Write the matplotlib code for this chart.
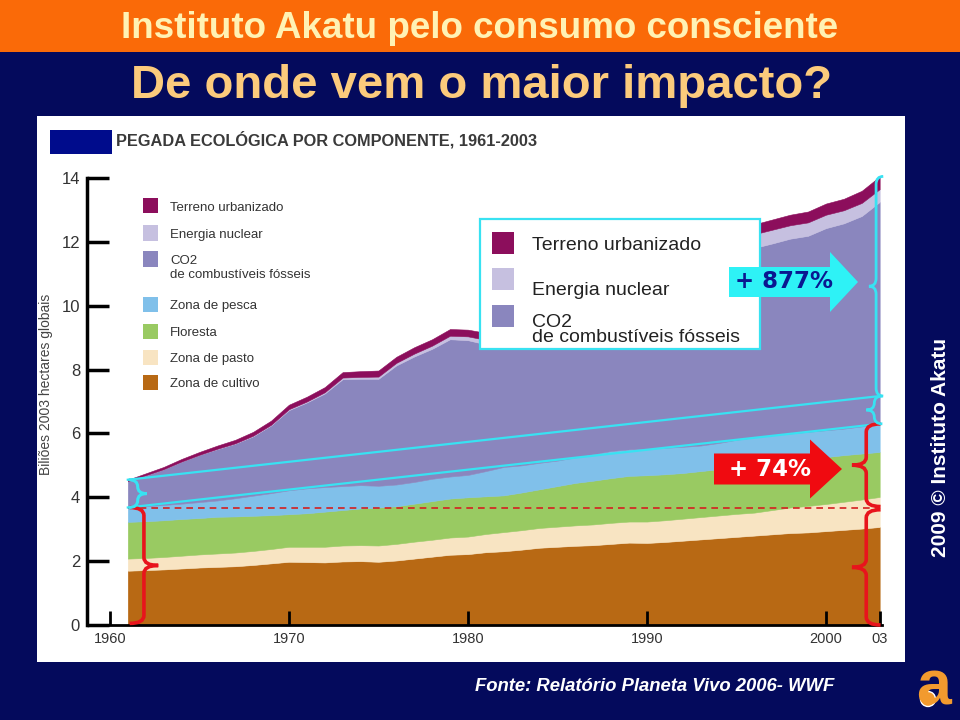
import matplotlib
matplotlib.use("Agg")
import matplotlib.pyplot as plt
from matplotlib.patches import Rectangle, Polygon, PathPatch, Ellipse
from matplotlib.path import Path

# ---------------- data (billions of 2003 global hectares) ----------------
years = list(range(1961, 2004))

cultivo = [1.70, 1.72, 1.74, 1.77, 1.80, 1.82, 1.84, 1.88, 1.93, 1.98,
           1.97, 1.96, 1.99, 2.00, 1.98, 2.02, 2.08, 2.14, 2.20, 2.22,
           2.28, 2.31, 2.36, 2.42, 2.45, 2.48, 2.50, 2.54, 2.58, 2.57,
           2.60, 2.64, 2.68, 2.72, 2.76, 2.80, 2.84, 2.88, 2.90, 2.94,
           2.98, 3.02, 3.07]
pasto = [0.38, 0.38, 0.39, 0.40, 0.41, 0.42, 0.43, 0.44, 0.45, 0.47,
         0.48, 0.49, 0.50, 0.50, 0.51, 0.52, 0.53, 0.53, 0.54, 0.55,
         0.57, 0.60, 0.61, 0.62, 0.63, 0.64, 0.65, 0.66, 0.66, 0.67,
         0.68, 0.69, 0.70, 0.71, 0.72, 0.72, 0.76, 0.80, 0.83, 0.85,
         0.88, 0.91, 0.94]
floresta = [1.15, 1.15, 1.15, 1.15, 1.14, 1.15, 1.13, 1.10, 1.06, 1.02,
            1.05, 1.10, 1.11, 1.15, 1.19, 1.18, 1.19, 1.21, 1.22, 1.23,
            1.18, 1.15, 1.18, 1.21, 1.27, 1.33, 1.37, 1.40, 1.43, 1.45,
            1.44, 1.43, 1.44, 1.45, 1.46, 1.48, 1.48, 1.46, 1.47, 1.47,
            1.46, 1.44, 1.41]
pesca = [0.45, 0.47, 0.48, 0.48, 0.50, 0.51, 0.57, 0.63, 0.69, 0.75,
         0.78, 0.77, 0.75, 0.73, 0.68, 0.68, 0.68, 0.70, 0.69, 0.70,
         0.79, 0.89, 0.85, 0.83, 0.80, 0.80, 0.83, 0.85, 0.83, 0.83,
         0.83, 0.82, 0.80, 0.82, 0.86, 0.88, 0.87, 0.86, 0.85, 0.84,
         0.83, 0.85, 0.88]
co2 = [0.82, 0.97, 1.12, 1.32, 1.48, 1.61, 1.71, 1.86, 2.12, 2.51,
       2.69, 2.93, 3.35, 3.33, 3.35, 3.73, 3.93, 4.07, 4.30, 4.22,
       3.97, 3.77, 3.73, 3.87, 4.06, 4.23, 4.50, 4.78, 5.00, 5.16,
       5.25, 5.31, 5.40, 5.50, 5.68, 5.93, 6.00, 6.10, 6.14, 6.33,
       6.43, 6.59, 6.95]
nuclear = [0.00, 0.00, 0.00, 0.00, 0.00, 0.01, 0.01, 0.02, 0.02, 0.03,
           0.03, 0.04, 0.05, 0.06, 0.07, 0.08, 0.09, 0.10, 0.11, 0.12,
           0.14, 0.16, 0.19, 0.22, 0.25, 0.28, 0.30, 0.32, 0.34, 0.36,
           0.38, 0.39, 0.40, 0.41, 0.42, 0.43, 0.43, 0.42, 0.42, 0.42,
           0.41, 0.41, 0.40]
urbano = [0.05, 0.06, 0.07, 0.08, 0.09, 0.10, 0.11, 0.12, 0.13, 0.14,
          0.15, 0.16, 0.17, 0.18, 0.19, 0.19, 0.20, 0.20, 0.21, 0.21,
          0.22, 0.22, 0.23, 0.23, 0.24, 0.24, 0.25, 0.25, 0.26, 0.26,
          0.27, 0.27, 0.28, 0.29, 0.30, 0.31, 0.32, 0.33, 0.34, 0.35,
          0.36, 0.38, 0.40]

series = [cultivo, pasto, floresta, pesca, co2, nuclear, urbano]
labels = ["Zona de cultivo", "Zona de pasto", "Floresta", "Zona de pesca",
          "CO2\nde combustíveis fósseis", "Energia nuclear", "Terreno urbanizado"]
colors = ["#B86914", "#F8E4C2", "#99CA62", "#80C0EA", "#8A86BE", "#C6C0E0", "#8C0E5C"]

x_ticks = [1960, 1970, 1980, 1990, 2000, 2003]
x_ticklabels = ["1960", "1970", "1980", "1990", "2000", "03"]
y_ticks = [0, 2, 4, 6, 8, 10, 12, 14]

NAVY = "#040A5C"
ORANGE = "#FA6A08"
CYAN = "#38E2F2"
RED = "#E8141C"
SANS = ["Liberation Sans", "DejaVu Sans"]

W, H = 960, 720
fig = plt.figure(figsize=(9.6, 7.2), dpi=100)
fig.patch.set_facecolor(NAVY)


def fx(px):
    return px / W


def fy(py):
    return 1 - py / H


# ------------------ slide frame ------------------ #
fig.add_artist(Rectangle((0, fy(52)), 1, 52 / H, transform=fig.transFigure,
                         facecolor=ORANGE, edgecolor="none", zorder=-10))
fig.text(fx(480), fy(38), "Instituto Akatu pelo consumo consciente", family=SANS,
         fontsize=26.5, fontweight="bold", color="#FFF2B4", ha="center", va="baseline")
fig.text(fx(482), fy(98), "De onde vem o maior impacto?", family=SANS,
         fontsize=34, fontweight="bold", color="#FCCB7C", ha="center", va="baseline")

# white panel behind the chart
fig.add_artist(Rectangle((fx(37), fy(662)), fx(905) - fx(37), fy(116) - fy(662),
                         transform=fig.transFigure, facecolor="white",
                         edgecolor="none", zorder=-5))
fig.add_artist(Rectangle((fx(50), fy(154)), fx(112) - fx(50), fy(130) - fy(154),
                         transform=fig.transFigure, facecolor="#000C8C",
                         edgecolor="none", zorder=-4))
fig.text(fx(116), fy(145), "PEGADA ECOLÓGICA POR COMPONENTE, 1961-2003", family=SANS,
         fontsize=11.8, fontweight="bold", color="#3A3A3A", ha="left", va="baseline")

fig.text(fx(46), fy(384), "Biliões 2003 hectares globais", family=SANS, fontsize=10,
         color="#444444", rotation=90, ha="center", va="center")

fig.text(fx(940), fy(447), "2009 © Instituto Akatu", family=SANS, fontsize=15,
         fontweight="bold", color="white", rotation=90, ha="center", va="center")
fig.text(fx(655), fy(691), "Fonte: Relatório Planeta Vivo 2006- WWF", family=SANS,
         fontsize=13.3, fontweight="bold", style="italic", color="white",
         ha="center", va="baseline")

# logo
fig.text(fx(933), fy(688), "a", family=SANS, fontsize=45, fontweight="bold",
         color="#F29A2E", ha="center", va="center")
fig.add_artist(Ellipse((fx(928), fy(699)), 15 / W, 15 / H, transform=fig.transFigure,
                       facecolor="#F29A2E", edgecolor="white", lw=1.0, zorder=3))

# ------------------ chart ------------------ #
ax = fig.add_axes([fx(87), fy(625), fx(882) - fx(87), fy(178) - fy(625)])
ax.set_facecolor("white")
ax.stackplot(years, *series, colors=colors, linewidth=0.4,
             edgecolor="face", zorder=1)

ax.set_xlim(1958.72, 2003.13)
ax.set_ylim(0, 14)
for s in ["top", "right"]:
    ax.spines[s].set_visible(False)
ax.spines["left"].set_linewidth(2.5)
ax.spines["bottom"].set_linewidth(2.0)
ax.set_xticks(x_ticks)
ax.set_xticklabels(x_ticklabels, family=SANS, fontsize=10.5, color="#333333")
ax.set_yticks(y_ticks)
ax.set_yticklabels([str(v) for v in y_ticks], family=SANS, fontsize=12, color="#333333")
ax.tick_params(axis="y", direction="in", length=16, width=2.5, pad=5)
ax.tick_params(axis="x", direction="in", length=10, width=2, pad=5)

# totals used by the annotations
n = len(years)
base = [sum(s[i] for s in series[:4]) for i in range(n)]
total = [sum(s[i] for s in series) for i in range(n)]
base0, top0 = base[0], total[0]
base1, top1 = base[-1], total[-1]
mid1 = base1 + (top0 - base0)

ax.plot([years[0], years[-1]], [base0, base0], ls=(0, (4, 3)), color="#D42020",
        lw=1.2, zorder=3)
ax.plot([years[0], years[-1]], [top0, mid1], color=CYAN, lw=1.6, zorder=3)
ax.plot([years[0], years[-1]], [base0, base1], color=CYAN, lw=1.6, zorder=3)


def brace(x, y0, y1, w, side, color, lw):
    # side=+1 -> tip points left, side=-1 -> tip points right
    r = min(0.25, (y1 - y0) / 4)
    ym = (y0 + y1) / 2
    xe = x + side * w / 2
    xt = x - side * w / 2
    verts = [(xe, y1), (x, y1), (x, y1 - r), (x, ym + r), (x, ym), (xt, ym),
             (x, ym), (x, ym - r), (x, y0 + r), (x, y0), (xe, y0)]
    codes = [Path.MOVETO, Path.CURVE3, Path.CURVE3, Path.LINETO, Path.CURVE3,
             Path.CURVE3, Path.CURVE3, Path.CURVE3, Path.LINETO, Path.CURVE3, Path.CURVE3]
    ax.add_patch(PathPatch(Path(verts, codes), facecolor="none", edgecolor=color,
                           lw=lw, clip_on=False, zorder=5))


brace(1961.9, 0.05, base0, 1.6, -1, RED, 2.6)
brace(1961.55, base0, top0, 1.0, -1, CYAN, 2.2)
brace(2002.25, 0.0, base0 - 0.07, 1.6, 1, RED, 2.6)
brace(2002.25, base0 + 0.03, base1, 1.6, 1, RED, 2.6)
brace(2002.7, base1, mid1, 0.9, 1, CYAN, 2.0)
brace(2002.8, mid1, top1, 0.8, 1, CYAN, 2.0)

# left legend (baseline of the last text line sits 15 px lower per extra line)
leg_y = [382, 357, 331, 304, 259, 233, 206]
for lab, col, yy in zip(labels, colors, leg_y):
    fig.add_artist(Rectangle((fx(143), fy(yy + 7.5)), 15 / W, 15 / H,
                             transform=fig.transFigure, facecolor=col,
                             edgecolor="none", zorder=4))
    extra = lab.count("\n")
    fig.text(fx(170), fy(yy + 5 + 14 * extra), lab, family=SANS, fontsize=9.5,
             color="#333333", ha="left", va="baseline", linespacing=1.25, zorder=4)

# inset legend box
fig.add_artist(Rectangle((fx(480), fy(349)), fx(760) - fx(480), fy(219) - fy(349),
                         transform=fig.transFigure, facecolor="white",
                         edgecolor=CYAN, lw=1.6, zorder=6))
inset_sq = [243, 279, 316]
inset_base = [250, 295, 342]
for k, (yq, yb) in enumerate(zip(inset_sq, inset_base)):
    idx = 6 - k
    fig.add_artist(Rectangle((fx(492), fy(yq + 11)), 22 / W, 22 / H,
                             transform=fig.transFigure, facecolor=colors[idx],
                             edgecolor="none", zorder=7))
    fig.text(fx(532), fy(yb), labels[idx], family=SANS, fontsize=14, color="#222222",
             ha="left", va="baseline", linespacing=0.85, zorder=7)


def arrow(x0, x1, xt, yc, bh, hh, color):
    pts = [(x0, yc - bh / 2), (x1, yc - bh / 2), (x1, yc - hh / 2), (xt, yc),
           (x1, yc + hh / 2), (x1, yc + bh / 2), (x0, yc + bh / 2)]
    fig.add_artist(Polygon([(fx(a), fy(b)) for a, b in pts], closed=True,
                           transform=fig.transFigure, facecolor=color,
                           edgecolor="none", zorder=8))


arrow(729, 830, 858, 282, 30, 60, "#2EF2F6")
fig.text(fx(784), fy(282), "+ 877%", family=["DejaVu Sans"], fontsize=16.5,
         fontweight="bold", color="#0A1890", ha="center", va="center", zorder=9)
arrow(714, 810, 842, 469, 31, 59, "#F00A10")
fig.text(fx(770), fy(470), "+ 74%", family=["DejaVu Sans"], fontsize=16.5,
         fontweight="bold", color="white", ha="center", va="center", zorder=9)

fig.savefig("out.png", dpi=100, facecolor=fig.get_facecolor())
